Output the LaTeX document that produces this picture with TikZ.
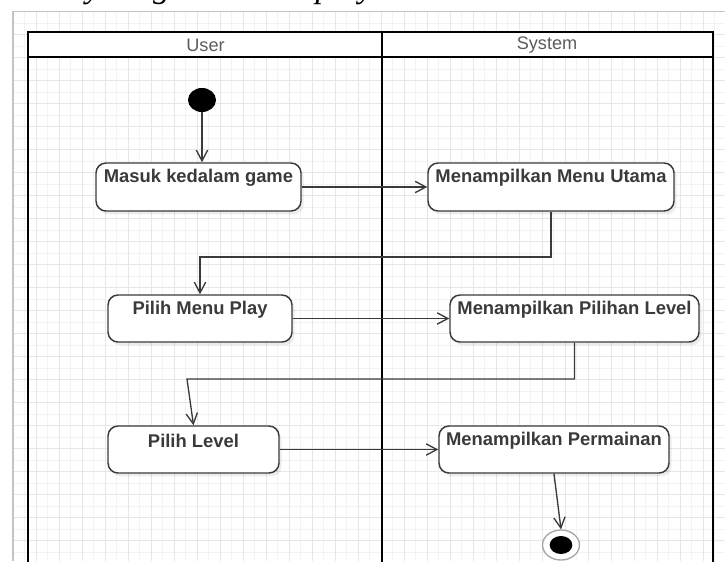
\documentclass[tikz,border=0pt]{standalone}
\usepackage{fontspec}
\setmainfont{Liberation Sans}
\newfontfamily\captionserif{Liberation Serif}
\usetikzlibrary{arrows.meta,shadows,shapes.geometric}

\definecolor{ink}{HTML}{3A3A3A}
\definecolor{laneink}{HTML}{5C5C5C}
\definecolor{gridfine}{HTML}{F3F3F3}
\definecolor{gridmajor}{HTML}{E6E6E6}
\definecolor{framegray}{HTML}{C4C4C4}

\tikzset{
  lane/.style={line width=1.9pt, draw=black},
  actbox/.style={draw=ink, line width=1.1pt, fill=white, rounded corners=7.5pt,
    inner sep=0pt, minimum height=36pt,
    drop shadow={shadow xshift=2pt, shadow yshift=-2.5pt, fill=black, opacity=0.07}},
  actlabel/.style={font=\fontsize{13.8}{16}\selectfont\bfseries, text=ink, inner sep=0pt},
  lanelabel/.style={font=\fontsize{13.6}{16}\selectfont, text=laneink, inner sep=0pt},
  flow/.style={draw=ink, line width=1pt, -{Straight Barb[length=8pt,width=8.5pt]}},
  gridline/.style={draw=gridmajor, line width=0.5pt},
  gridthin/.style={draw=gridfine, line width=0.4pt}
}

\begin{document}
\begin{tikzpicture}[x=0.75pt, y=-0.75pt]
\useasboundingbox (0,0) rectangle (725,561);
\clip (0,0) rectangle (725,561);

% heading above the canvas (runs off the top edge)
\node[font=\captionserif\itshape\fontsize{25.5}{28}\selectfont, anchor=base west, inner sep=0pt]
  (title) at (-3,-3) {Activity diagram menu play};

% canvas grid
\foreach \gx in {24.5,47.5,...,725} \draw[gridthin] (\gx,11.5) -- (\gx,561);
\foreach \gy in {23,46,...,561} \draw[gridthin] (13,\gy) -- (725,\gy);
\foreach \gx in {13,36,...,725} \draw[gridline] (\gx,11.5) -- (\gx,561);
\foreach \gy in {11.5,34.5,...,561} \draw[gridline] (13,\gy) -- (725,\gy);
\draw[framegray, line width=1.1pt] (13,561) -- (13,11.5) -- (725,11.5);

% swimlanes
\fill[white] (28,32) rectangle (713,57);
\draw[lane] (28,565) -- (28,32) -- (713,32) -- (713,565);
\draw[lane] (28,57) -- (713,57);
\draw[lane] (382,32) -- (382,565);
\node[lanelabel] (userlane) at (205.5,45.5) {User};
\node[lanelabel] (systemlane) at (547,45.5) {System};

% start and end markers
\node[ellipse, fill=black, minimum width=21pt, minimum height=18pt, inner sep=0pt] (start) at (202,100) {};
\node[ellipse, draw=gray!70, line width=1pt, fill=white, minimum width=27.75pt, minimum height=22.5pt, inner sep=0pt] (end) at (561,545) {};
\node[ellipse, fill=black, minimum width=17pt, minimum height=13.5pt, inner sep=0pt] (endcore) at (561,545) {};

% activities
\node[actbox, minimum width=153.75pt] (m1) at (198.5,187) {};
\node[actbox, minimum width=184.5pt]  (s1) at (551,187) {};
\node[actbox, minimum width=138pt, minimum height=35.25pt] (m2) at (200,318.5) {};
\node[actbox, minimum width=186.75pt, minimum height=35.25pt] (s2) at (574.5,318.5) {};
\node[actbox, minimum width=128.25pt, minimum height=35.25pt] (m3) at (193.5,449.5) {};
\node[actbox, minimum width=172.5pt, minimum height=35.25pt] (s3) at (554,449.5) {};

\node[actlabel] (m1t) at (198.5,178) {Masuk kedalam game};
\node[actlabel] (s1t) at (551,178) {Menampilkan Menu Utama};
\node[actlabel] (m2t) at (200,310) {Pilih Menu Play};
\node[actlabel] (s2t) at (574.5,310) {Menampilkan Pilihan Level};
\node[actlabel] (m3t) at (193.5,441) {Pilih Level};
\node[actlabel] (s3t) at (554,441) {Menampilkan Permainan};

% control flow
\coordinate (k1) at (200,257);
\coordinate (k2) at (187,379);
\draw[flow] (start.south) -- (start.south |- m1.north);
\draw[flow] (m1.east) -- (s1.west);
\draw[flow] (s1.south) |- (k1) -- (m2.north);
\draw[flow] (m2.east) -- (s2.west);
\draw[flow] (s2.south) |- (k2) -- (m3.north);
\draw[flow] (m3.east) -- (s3.west);
\draw[flow] (s3.south) -- (end.north);
\end{tikzpicture}
\end{document}
